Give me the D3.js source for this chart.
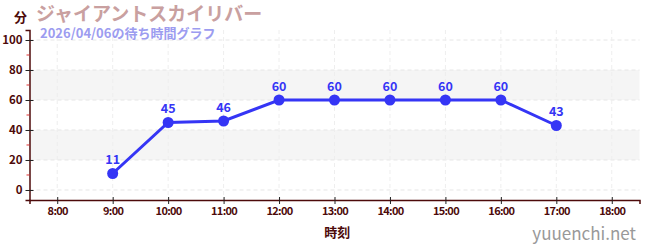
<!DOCTYPE html>
<html>
<head>
<meta charset="utf-8">
<script src="https://cdn.jsdelivr.net/npm/d3@7"></script>
<style>
  body { margin: 0; background: #fff; }
  text { font-family: "Noto Sans CJK JP", "Noto Sans", sans-serif; }
</style>
</head>
<body>
<script>
// wait times, hour of day -> minutes
let hours = [9, 10, 11, 12, 13, 14, 15, 16, 17];
let waits = [11, 45, 46, 60, 60, 60, 60, 60, 43];
let xTicks = [8, 9, 10, 11, 12, 13, 14, 15, 16, 17, 18];
let yTicks = [0, 20, 40, 60, 80, 100];
let yMinor = [10, 30, 50, 70, 90];
let bands = [[20, 40], [60, 80]];

let w = 650;
let h = 250;
let axisCol = '#4d0a0a';
let lineCol = '#3535f5';

let svg = d3.select('body').append('svg')
  .attr('width', w)
  .attr('height', h);

let x = d3.scaleLinear().domain([7.5, 18.5]).range([29.5, 639.5]);
let y = d3.scaleLinear().domain([-6.67, 106.67]).range([200, 30]);

// shaded bands
svg.selectAll('.band')
  .data(bands)
  .enter()
    .append('rect')
    .attr('x', x(7.5))
    .attr('width', x(18.5) - x(7.5))
    .attr('y', d => y(d[1]))
    .attr('height', d => y(d[0]) - y(d[1]))
    .attr('fill', '#f5f5f5');

// dashed grid
svg.selectAll('.hgrid')
  .data(yTicks)
  .enter()
    .append('line')
    .attr('x1', x(7.5)).attr('x2', x(18.5))
    .attr('y1', d => y(d)).attr('y2', d => y(d))
    .attr('stroke', '#e6e6e6')
    .attr('stroke-dasharray', '4,3');
svg.selectAll('.vgrid')
  .data(xTicks)
  .enter()
    .append('line')
    .attr('x1', d => x(d)).attr('x2', d => x(d))
    .attr('y1', y(106.67)).attr('y2', y(-6.67))
    .attr('stroke', '#eeeeee')
    .attr('stroke-dasharray', '4,3');

// y axis
let yAxis = svg.append('g')
  .attr('transform', `translate(${x(7.5)},0)`)
  .call(d3.axisLeft(y).tickValues(yTicks).tickSize(4).tickPadding(3));
yAxis.select('.domain').attr('stroke', axisCol).attr('stroke-width', 1.5);
yAxis.selectAll('.tick line').attr('stroke', '#222').attr('x2', 4).attr('x1', -4);
yAxis.selectAll('.tick text')
  .attr('fill', axisCol)
  .attr('font-size', 11.5)
  .attr('font-weight', 'bold')
  .attr('font-family', '"Noto Sans", sans-serif');
svg.selectAll('.minor')
  .data(yMinor)
  .enter()
    .append('line')
    .attr('x1', x(7.5) - 3).attr('x2', x(7.5))
    .attr('y1', d => y(d)).attr('y2', d => y(d))
    .attr('stroke', '#e03030');

// x axis
let xAxis = svg.append('g')
  .attr('transform', `translate(0,${y(-6.67)})`)
  .call(d3.axisBottom(x).tickValues(xTicks).tickSize(4).tickPadding(3)
    .tickFormat(d => `${d}:00`));
xAxis.select('.domain').attr('stroke', axisCol).attr('stroke-width', 1.5);
xAxis.selectAll('.tick line').attr('stroke', '#222').attr('y1', -3).attr('y2', 4);
xAxis.selectAll('.tick text')
  .attr('fill', axisCol)
  .attr('font-size', 11)
  .attr('font-weight', 'bold')
  .attr('letter-spacing', -0.7)
  .attr('font-family', '"Noto Sans", sans-serif');

// line + points
let line = d3.line()
  .x((d, i) => x(hours[i]))
  .y(d => y(d));
svg.append('path')
  .datum(waits)
  .attr('d', line)
  .attr('fill', 'none')
  .attr('stroke', lineCol)
  .attr('stroke-width', 3);
svg.selectAll('.pt')
  .data(waits)
  .enter()
    .append('circle')
    .attr('cx', (d, i) => x(hours[i]))
    .attr('cy', d => y(d))
    .attr('r', 5.5)
    .attr('fill', lineCol);
svg.selectAll('.pt-label')
  .data(waits)
  .enter()
    .append('text')
    .attr('x', (d, i) => x(hours[i]))
    .attr('y', d => y(d) - 9)
    .attr('text-anchor', 'middle')
    .attr('font-size', 12.5)
    .attr('font-weight', 'bold')
    .attr('fill', lineCol)
    .attr('font-family', '"Noto Sans", sans-serif')
    .text(d => d);

// texts
svg.append('text')
  .attr('x', 14).attr('y', 22)
  .attr('font-size', 13).attr('font-weight', 'bold')
  .attr('fill', axisCol)
  .text('分');
svg.append('text')
  .attr('x', 36).attr('y', 21)
  .attr('font-size', 19).attr('font-weight', 'bold')
  .attr('fill', '#c9a0a0')
  .text('ジャイアントスカイリバー');
svg.append('text')
  .attr('x', 40).attr('y', 37.5)
  .attr('font-size', 13).attr('font-weight', 'bold')
  .attr('fill', '#9c9cf0')
  .text('2026/04/06の待ち時間グラフ');
svg.append('text')
  .attr('x', x(13.05)).attr('y', 237)
  .attr('text-anchor', 'middle')
  .attr('font-size', 13).attr('font-weight', 'bold')
  .attr('fill', axisCol)
  .text('時刻');
svg.append('text')
  .attr('x', 636).attr('y', 240)
  .attr('text-anchor', 'end')
  .attr('font-size', 17)
  .attr('fill', '#999999')
  .attr('font-family', '"Noto Sans", sans-serif')
  .text('yuuenchi.net');
</script>
</body>
</html>
